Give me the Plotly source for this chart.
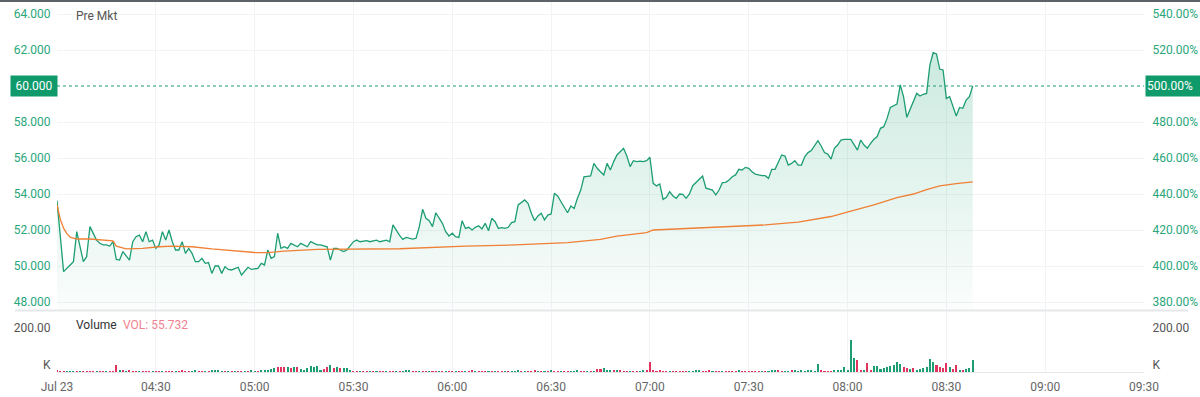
import pandas as pd
import plotly.graph_objects as go

# ---------------- data ----------------
session_start = "2025-07-23 04:00"

# price samples: minutes after 04:00 and last price
price_minute = [
    0, 2, 4, 5, 6, 8, 9, 10, 12, 13,
    14, 15, 16, 17, 18, 19, 20, 22, 23, 24,
    25, 26, 27, 28, 29, 30, 31, 32, 33, 34,
    35, 36, 37, 38, 39, 40, 41, 42, 43, 44,
    45, 46, 47, 48, 49, 50, 51, 52, 53, 55,
    56, 57, 58, 59, 61, 62, 63, 64, 65, 66,
    67, 68, 69, 70, 71, 73, 74, 76, 77, 79,
    80, 82, 83, 84, 85, 87, 88, 90, 91, 92,
    94, 95, 97, 98, 100, 101, 102, 104, 105, 106,
    108, 109, 110, 111, 112, 113, 114, 115, 116, 117,
    118, 119, 120, 121, 122, 123, 124, 125, 126, 127,
    128, 129, 130, 131, 132, 133, 134, 135, 136, 137,
    138, 139, 140, 142, 143, 144, 145, 146, 147, 148,
    149, 150, 151, 152, 153, 154, 155, 156, 157, 158,
    159, 160, 162, 163, 164, 165, 166, 167, 168, 169,
    170, 172, 173, 174, 175, 176, 177, 178, 179, 180,
    181, 182, 183, 184, 185, 186, 187, 188, 189, 190,
    191, 192, 193, 195, 196, 197, 198, 199, 200, 201,
    202, 203, 204, 205, 206, 207, 208, 209, 210, 211,
    212, 213, 214, 215, 216, 217, 218, 220, 221, 222,
    223, 224, 225, 226, 227, 228, 229, 231, 232, 233,
    234, 235, 236, 237, 238, 239, 240, 241, 243, 244,
    245, 246, 247, 248, 249, 250, 251, 252, 253, 255,
    256, 257, 258, 259, 261, 262, 263, 264, 265, 266,
    267, 268, 269, 270, 271, 273, 274, 275, 276, 277,
    278,
]
price = [
    53.63, 49.69, 50.06, 50.24, 51.91, 50.24, 50.52, 52.19, 51.44, 51.26,
    51.17, 51.17, 51.11, 51.35, 50.37, 50.33, 50.80, 50.33, 51.35, 51.63,
    51.72, 51.35, 51.91, 51.35, 51.44, 50.98, 51.17, 51.91, 51.44, 52.00,
    51.35, 50.89, 50.89, 51.35, 50.70, 50.98, 50.70, 50.24, 50.24, 50.43,
    50.15, 50.19, 49.59, 50.00, 50.00, 49.59, 49.96, 49.81, 49.78, 49.93,
    49.50, 49.69, 49.93, 49.81, 49.87, 50.15, 50.06, 50.89, 50.43, 50.52,
    51.82, 50.98, 51.07, 50.98, 51.26, 51.07, 51.26, 51.07, 51.35, 51.17,
    51.17, 51.07, 50.33, 50.98, 50.98, 50.80, 50.89, 51.35, 51.44, 51.35,
    51.41, 51.35, 51.44, 51.35, 51.44, 51.35, 52.28, 51.70, 51.48, 51.59,
    51.50, 51.54, 52.19, 53.15, 52.65, 52.52, 52.19, 52.96, 52.70, 52.37,
    51.91, 51.67, 51.82, 51.63, 51.59, 52.52, 52.09, 52.15, 52.00, 52.15,
    52.24, 52.06, 52.37, 51.96, 52.65, 52.46, 52.09, 52.13, 52.09, 52.15,
    52.41, 52.46, 53.39, 53.67, 53.48, 52.93, 52.52, 52.78, 52.93, 52.56,
    52.83, 52.89, 54.04, 53.89, 53.57, 53.30, 52.96, 53.33, 53.20, 53.76,
    54.22, 54.96, 55.00, 55.70, 55.43, 55.24, 55.06, 55.70, 55.33, 55.80,
    56.17, 56.54, 56.11, 55.52, 55.85, 55.80, 55.83, 55.80, 55.85, 56.04,
    54.59, 54.45, 54.56, 53.70, 53.82, 54.13, 53.89, 53.76, 54.00, 53.98,
    53.76, 54.00, 54.46, 54.82, 55.00, 54.32, 54.26, 54.22, 53.95, 54.22,
    54.63, 54.65, 54.78, 54.96, 55.06, 55.37, 55.33, 55.48, 55.43, 55.24,
    55.11, 55.06, 55.02, 55.02, 54.87, 55.37, 55.37, 56.17, 56.11, 55.61,
    55.70, 55.85, 55.61, 55.61, 56.07, 56.30, 56.41, 56.96, 56.67, 56.30,
    56.22, 55.94, 56.54, 56.72, 57.00, 57.04, 57.04, 57.04, 56.44, 57.00,
    56.72, 56.54, 56.81, 57.04, 57.19, 57.65, 57.74, 58.20, 58.81, 59.00,
    60.06, 59.41, 58.26, 58.70, 59.59, 59.44, 59.54, 59.59, 61.17, 61.85,
    61.78, 60.93, 60.89, 59.31, 59.41, 58.33, 58.81, 58.76, 59.22, 59.41,
    60.00,
]

# volume-weighted average price
vwap_minute = [0, 1, 2, 3, 4, 6, 10, 14, 17, 18,
               21, 26, 31, 35, 41, 47, 53, 60, 64, 69,
               79, 90, 104, 124, 139, 155, 165, 170, 175, 179,
               181, 195, 205, 215, 225, 235, 241, 248, 255, 260,
               264, 268, 273, 278]
vwap = [53.40, 52.60, 52.10, 51.80, 51.60, 51.50, 51.50, 51.45, 51.40, 51.10,
        50.95, 50.98, 51.07, 51.10, 51.07, 50.95, 50.86, 50.75, 50.74, 50.83,
        50.92, 50.94, 50.96, 51.10, 51.17, 51.30, 51.48, 51.66, 51.78, 51.85,
        52.00, 52.11, 52.19, 52.28, 52.44, 52.75, 53.05, 53.40, 53.80, 54.00,
        54.25, 54.45, 54.58, 54.67]

# one-minute volume (thousands), minutes 0..278 after 04:00
volume_k = [
    6, 4, 3, 3, 2, 3, 2, 3, 2, 2,
    3, 2, 2, 3, 2, 2, 3, 2, 30, 8,
    10, 3, 6, 3, 2, 2, 3, 2, 2, 3,
    2, 3, 4, 2, 3, 2, 2, 3, 8, 4,
    3, 2, 8, 3, 2, 3, 4, 6, 5, 6,
    3, 2, 3, 2, 2, 3, 2, 3, 4, 6,
    4, 3, 6, 5, 8, 12, 20, 22, 24, 24,
    22, 20, 22, 24, 12, 8, 20, 28, 24, 26,
    10, 14, 22, 30, 18, 22, 20, 16, 18, 6,
    3, 2, 3, 2, 2, 3, 2, 3, 2, 3,
    2, 3, 2, 3, 4, 3, 8, 6, 3, 2,
    3, 2, 2, 4, 3, 2, 3, 2, 4, 3,
    2, 3, 3, 2, 4, 3, 6, 3, 2, 3,
    2, 3, 2, 4, 2, 3, 3, 2, 4, 3,
    8, 3, 4, 3, 2, 6, 4, 3, 4, 2,
    10, 4, 3, 2, 3, 2, 3, 4, 5, 3,
    2, 3, 3, 4, 14, 14, 16, 6, 8, 6,
    10, 6, 4, 3, 2, 3, 2, 4, 8, 8,
    45, 6, 4, 6, 2, 3, 2, 3, 2, 3,
    2, 3, 2, 4, 5, 8, 3, 2, 5, 3,
    3, 2, 3, 2, 3, 4, 3, 8, 3, 2,
    2, 3, 2, 3, 2, 3, 4, 6, 10, 6,
    3, 4, 3, 5, 6, 4, 5, 4, 6, 5,
    4, 35, 5, 4, 3, 4, 5, 8, 6, 23,
    8, 145, 65, 56, 10, 8, 41, 5, 29, 29,
    15, 18, 22, 27, 32, 44, 38, 24, 20, 12,
    16, 10, 14, 18, 25, 59, 44, 30, 24, 18,
    41, 22, 12, 30, 10, 10, 14, 16, 55.732,
]
# 1 = up minute (green), 0 = down minute (red)
volume_up = [
    0, 0, 0, 1, 1, 1, 0, 1, 0, 0,
    0, 0, 1, 0, 0, 1, 0, 0, 0, 1,
    0, 1, 0, 0, 0, 1, 0, 0, 0, 1,
    0, 0, 1, 0, 0, 0, 1, 0, 0, 0,
    0, 1, 1, 0, 0, 1, 0, 1, 1, 1,
    1, 0, 1, 0, 1, 0, 0, 1, 0, 1,
    1, 0, 1, 1, 1, 1, 1, 0, 0, 0,
    1, 0, 1, 0, 1, 1, 1, 1, 1, 1,
    1, 0, 0, 1, 0, 1, 0, 1, 1, 1,
    0, 0, 1, 0, 0, 1, 0, 1, 0, 0,
    1, 0, 0, 1, 0, 1, 1, 1, 0, 0,
    1, 0, 0, 1, 0, 0, 1, 0, 1, 0,
    0, 1, 0, 0, 1, 0, 0, 1, 0, 0,
    0, 1, 0, 1, 0, 0, 1, 0, 1, 1,
    1, 0, 1, 0, 0, 0, 1, 0, 1, 0,
    1, 0, 0, 1, 0, 0, 1, 1, 1, 0,
    0, 1, 0, 1, 0, 0, 1, 1, 1, 0,
    1, 0, 0, 0, 1, 0, 0, 1, 1, 0,
    0, 0, 0, 0, 0, 0, 1, 0, 0, 0,
    0, 0, 1, 1, 1, 1, 0, 0, 0, 1,
    0, 0, 1, 0, 0, 0, 0, 1, 0, 0,
    0, 0, 0, 0, 1, 0, 1, 1, 1, 0,
    0, 1, 1, 0, 1, 1, 1, 1, 1, 1,
    1, 1, 0, 0, 0, 0, 1, 1, 1, 1,
    1, 1, 1, 0, 0, 1, 0, 0, 1, 1,
    1, 1, 1, 1, 1, 1, 1, 0, 0, 1,
    0, 1, 1, 1, 1, 1, 1, 0, 0, 0,
    0, 1, 0, 0, 1, 0, 1, 1, 1,
]

previous_close = 10.0
last_price = 60.0
last_volume_label = "55.732"
price_ticks = [48, 50, 52, 54, 56, 58, 62, 64]
pct_ticks = [380, 400, 420, 440, 460, 480, 520, 540]
x_tick_labels = ["Jul 23", "04:30", "05:00", "05:30", "06:00", "06:30",
                 "07:00", "07:30", "08:00", "08:30", "09:00", "09:30"]

# ---------------- build ----------------
t0 = pd.Timestamp(session_start)
px_t = [t0 + pd.Timedelta(minutes=m) for m in price_minute]
vw_t = [t0 + pd.Timedelta(minutes=m) for m in vwap_minute]
vol_t = [t0 + pd.Timedelta(minutes=m) for m in range(len(volume_k))]
tick_t = [t0 + pd.Timedelta(minutes=30 * i) for i in range(len(x_tick_labels))]
x_end = tick_t[-1]

GREEN = "#1c9d73"
GREEN_TXT = "#2aa67b"
GREEN_BOX = "#0f9a6b"
RED = "#e0335e"
ORANGE = "#ef8035"
GRID = "#f2f3f4"
FONT = "Roboto, Arial, sans-serif"

y_lo, y_hi = 47.556, 64.667
pct = lambda p: (p / previous_close - 1) * 100
vol_top = 277.3

fig = go.Figure()
fig.add_trace(go.Scatter(
    x=px_t, y=price, mode="lines", line=dict(color=GREEN, width=1.3),
    fill="tozeroy",
    fillgradient=dict(type="vertical", start=y_lo, stop=62.0,
                      colorscale=[[0, "rgba(38,166,120,0.02)"],
                                  [1, "rgba(38,166,120,0.24)"]]),
    xaxis="x", yaxis="y", hoverinfo="skip", showlegend=False))
fig.add_trace(go.Scatter(
    x=vw_t, y=vwap, mode="lines", line=dict(color=ORANGE, width=1.3),
    xaxis="x", yaxis="y", hoverinfo="skip", showlegend=False))
fig.add_trace(go.Scatter(
    x=[t0, x_end], y=[pct(y_lo), pct(y_hi)], mode="markers",
    marker=dict(opacity=0), xaxis="x", yaxis="y3", hoverinfo="skip", showlegend=False))
fig.add_trace(go.Bar(
    x=vol_t, y=volume_k,
    marker=dict(color=[GREEN if u else RED for u in volume_up], line=dict(width=0)),
    width=60000 * 0.62, xaxis="x2", yaxis="y2", hoverinfo="skip", showlegend=False))
fig.add_trace(go.Scatter(
    x=[t0, x_end], y=[0, vol_top], mode="markers", marker=dict(opacity=0),
    xaxis="x2", yaxis="y4", hoverinfo="skip", showlegend=False))

main_bottom = 62 / 370
vol_top_dom = 61 / 370

fig.update_layout(
    width=1200, height=397,
    margin=dict(l=57, r=56, t=2, b=25),
    paper_bgcolor="white", plot_bgcolor="white",
    font=dict(family=FONT, size=12, color="#666"),
    bargap=0,
    xaxis=dict(domain=[0, 1], anchor="y", range=[t0, x_end], tickvals=tick_t,
               showticklabels=False, showgrid=True, gridcolor=GRID, gridwidth=1,
               zeroline=False, showline=False, ticks=""),
    xaxis2=dict(domain=[0, 1], anchor="y2", matches="x", range=[t0, x_end],
                tickvals=tick_t, ticktext=x_tick_labels,
                tickfont=dict(size=12, color="#666"),
                showgrid=True, gridcolor=GRID, zeroline=False,
                showline=True, linecolor="#e4e6e8", linewidth=1,
                ticks="outside", ticklen=4, tickcolor="rgba(0,0,0,0)"),
    yaxis=dict(domain=[main_bottom, 1], range=[y_lo, y_hi], tickvals=price_ticks,
               tickformat=".3f", tickfont=dict(size=12, color=GREEN_TXT),
               showgrid=True, gridcolor=GRID, zeroline=False, showline=False,
               ticks="outside", ticklen=3, tickcolor="rgba(0,0,0,0)"),
    yaxis3=dict(overlaying="y", side="right", range=[pct(y_lo), pct(y_hi)],
                tickvals=pct_ticks, ticktext=[f"{v:.2f}%" for v in pct_ticks],
                tickfont=dict(size=12, color=GREEN_TXT), showgrid=False,
                zeroline=False, ticks="outside", ticklen=5, tickcolor="rgba(0,0,0,0)"),
    yaxis2=dict(domain=[0, vol_top_dom], range=[0, vol_top], tickvals=[31.8, 200],
                ticktext=["K", "200.00"], tickfont=dict(size=12, color="#555"),
                showgrid=False, zeroline=False,
                ticks="outside", ticklen=3, tickcolor="rgba(0,0,0,0)"),
    yaxis4=dict(overlaying="y2", side="right", range=[0, vol_top], tickvals=[31.8, 200],
                ticktext=["K", "200.00"], tickfont=dict(size=12, color="#555"),
                showgrid=False, zeroline=False,
                ticks="outside", ticklen=5, tickcolor="rgba(0,0,0,0)"),
)

W = 1087.0
fig.add_shape(type="line", xref="paper", yref="y", x0=0, x1=1, y0=last_price, y1=last_price,
              line=dict(color=GREEN, width=1, dash="dot"))
# panel separator
fig.add_shape(type="line", xref="paper", yref="paper", x0=-42 / W, x1=1 + 44 / W,
              y0=(372 - 310.5) / 370, y1=(372 - 310.5) / 370,
              line=dict(color="#e6e7e9", width=2))
# top border
fig.add_shape(type="line", xref="paper", yref="paper", x0=-57 / W, x1=1 + 56 / W,
              y0=1 + 1 / 370, y1=1 + 1 / 370, line=dict(color="#5d6269", width=2))

fig.add_annotation(xref="paper", yref="y", x=0, y=last_price, xanchor="right",
                   yanchor="middle", text=f"{last_price:.3f}", showarrow=False,
                   bgcolor=GREEN_BOX, font=dict(color="white", size=12, family=FONT),
                   width=44, height=18, xshift=1)
fig.add_annotation(xref="paper", yref="y", x=1, y=last_price, xanchor="left",
                   yanchor="middle", text=f"{pct(last_price):.2f}%", showarrow=False,
                   bgcolor=GREEN_BOX, font=dict(color="white", size=12, family=FONT),
                   width=52, height=18, align="left", xshift=1)
fig.add_annotation(xref="paper", yref="paper", x=17 / W, y=1 - 14 / 370,
                   xanchor="left", yanchor="middle", text="Pre Mkt", showarrow=False,
                   font=dict(color="#555", size=12, family=FONT))
fig.add_annotation(xref="paper", yref="paper", x=17 / W, y=(372 - 325) / 370,
                   xanchor="left", yanchor="middle", text="Volume", showarrow=False,
                   font=dict(color="#333", size=12, family=FONT))
fig.add_annotation(xref="paper", yref="paper", x=64 / W, y=(372 - 325) / 370,
                   xanchor="left", yanchor="middle", text=f"VOL: {last_volume_label}",
                   showarrow=False, font=dict(color="#f08290", size=12, family=FONT))

fig.write_html("out.html", config={"displayModeBar": False},
               post_script="document.body.style.margin='0';document.body.style.overflow='hidden';")
